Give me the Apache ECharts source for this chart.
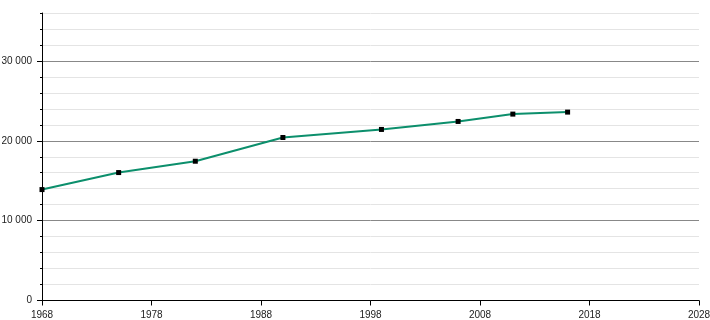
<!DOCTYPE html>
<html><head><meta charset="utf-8">
<script src="https://cdn.jsdelivr.net/npm/echarts@6/dist/echarts.min.js"></script>
<style>html,body{margin:0;padding:0;background:#fff}#c{width:710px;height:320px}</style>
</head><body><div id="c"></div>
<script>
const years = [1968, 1975, 1982, 1990, 1999, 2006, 2011, 2016];
const population = [13890, 16020, 17440, 20410, 21420, 22420, 23340, 23590];
const xTicks = [1968, 1978, 1988, 1998, 2008, 2018, 2028];
const yMajorTicks = [0, 10000, 20000, 30000];

const fmt = v => String(v).replace(/\B(?=(\d{3})+(?!\d))/g, ' ');
const font = {fontFamily: 'Liberation Sans, Arial, sans-serif', fontSize: 10, color: '#222'};

const chart = echarts.init(document.getElementById('c'), null, {renderer: 'canvas'});
chart.setOption({
  animation: false,
  grid: {left: 42, right: 11, top: 13, bottom: 19.5, containLabel: false, outerBoundsMode: 'none'},
  xAxis: {
    type: 'value', min: 1968, max: 2028, interval: 10,
    axisLine: {show: true, lineStyle: {color: '#000', width: 1}},
    axisTick: {show: true, length: 5, lineStyle: {color: '#000'}, customValues: xTicks},
    axisLabel: Object.assign({margin: 10, customValues: xTicks, formatter: v => String(v)}, font),
    splitLine: {show: false}
  },
  yAxis: [{
    type: 'value', min: 0, max: 36000, interval: 2000,
    axisLine: {show: true, lineStyle: {color: '#000', width: 1}},
    axisTick: {show: true, length: 2, lineStyle: {color: '#000'}},
    axisLabel: {show: false},
    splitLine: {show: true, lineStyle: {color: ['#888888', '#e4e4e4', '#e4e4e4', '#e4e4e4', '#e4e4e4'], width: 1}}
  }, {
    type: 'value', min: 0, max: 36000, position: 'left',
    axisLine: {show: false},
    axisTick: {show: true, length: 5, lineStyle: {color: '#000'}, customValues: yMajorTicks},
    axisLabel: Object.assign({margin: 10, customValues: yMajorTicks, formatter: v => fmt(v)}, font),
    splitLine: {show: false}
  }],
  series: [{
    type: 'line',
    data: years.map((y, i) => [y, population[i]]),
    lineStyle: {color: '#0c8f6c', width: 2},
    itemStyle: {color: '#000'},
    symbol: 'rect', symbolSize: 5,
    z: 5
  }]
});
</script></body></html>
